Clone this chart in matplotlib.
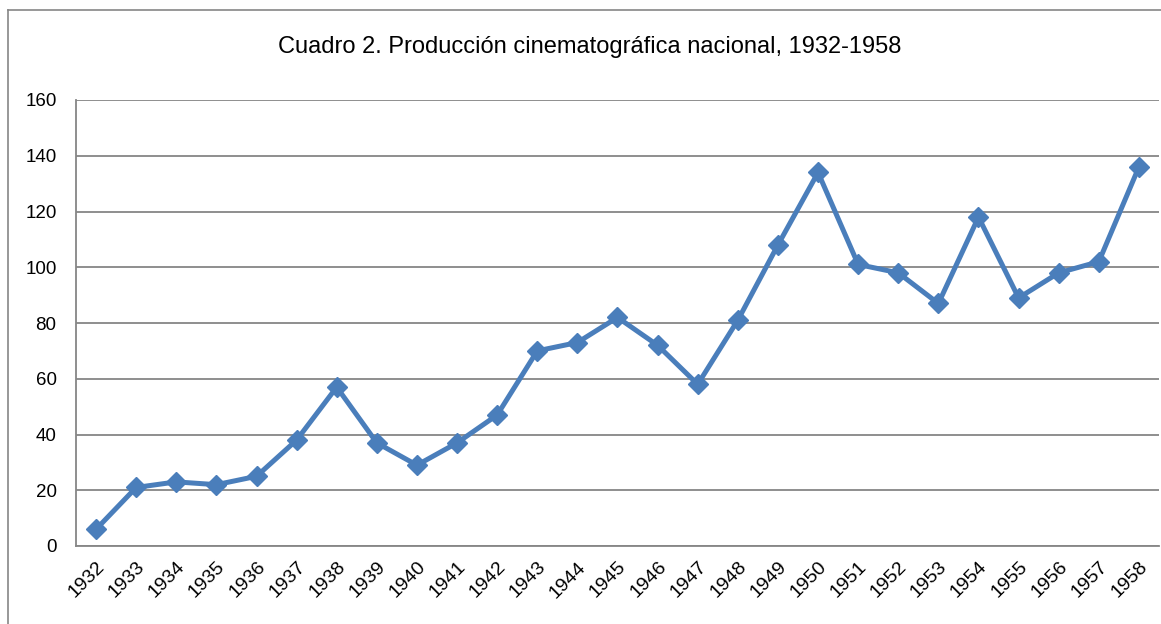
import matplotlib
matplotlib.use("Agg")
import matplotlib.pyplot as plt
from matplotlib.lines import Line2D

years = ["1932", "1933", "1934", "1935", "1936", "1937", "1938", "1939", "1940",
         "1941", "1942", "1943", "1944", "1945", "1946", "1947", "1948", "1949",
         "1950", "1951", "1952", "1953", "1954", "1955", "1956", "1957", "1958"]
films = [6, 21, 23, 22, 25, 38, 57, 37, 29, 37, 47, 70, 73, 82, 72, 58, 81, 108,
         134, 101, 98, 87, 118, 89, 98, 102, 136]
yticks = [0, 20, 40, 60, 80, 100, 120, 140, 160]
title = "Cuadro 2. Producción cinematográfica nacional, 1932-1958"

fam = ["Liberation Sans", "DejaVu Sans"]
plt.rcParams["font.family"] = fam

W, H = 1161, 624
fig = plt.figure(figsize=(W / 100, H / 100), dpi=100)
fig.patch.set_facecolor("white")

# outer chart frame
fig.add_artist(Line2D([8 / W, 8 / W], [1 - 10 / H, 0], transform=fig.transFigure,
                      color="#868686", lw=1.2))
fig.add_artist(Line2D([8 / W, 1], [1 - 10 / H, 1 - 10 / H], transform=fig.transFigure,
                      color="#868686", lw=1.2))

ax = fig.add_axes([76 / W, 1 - 546 / H, (1159 - 76) / W, (546 - 100) / H])
x = list(range(len(years)))
ax.plot(x, films, color="#4A7EBB", lw=3.6, marker="D", ms=10.5,
        markerfacecolor="#4A7EBB", markeredgecolor="#4A7EBB", zorder=3,
        solid_joinstyle="round")

ax.set_xlim(-0.5, len(years) - 0.5)
ax.set_ylim(0, 160)
ax.set_yticks(yticks)
ax.set_yticklabels([str(v) for v in yticks], fontsize=13.5)
ax.set_xticks(x)
ax.set_xticklabels(years, fontsize=14, rotation=45, ha="right",
                   rotation_mode="anchor")
ax.tick_params(axis="both", length=0)
ax.tick_params(axis="y", pad=14)
ax.tick_params(axis="x", pad=9)
ax.grid(axis="y", color="#868686", lw=1.3)
ax.set_axisbelow(True)
for s in ["top", "right"]:
    ax.spines[s].set_visible(False)
for s in ["left", "bottom"]:
    ax.spines[s].set_color("#868686")
    ax.spines[s].set_linewidth(1.3)

fig.text(590 / W, 1 - 47 / H, title, ha="center", va="center", fontsize=17)

fig.savefig("out.png", dpi=100)
